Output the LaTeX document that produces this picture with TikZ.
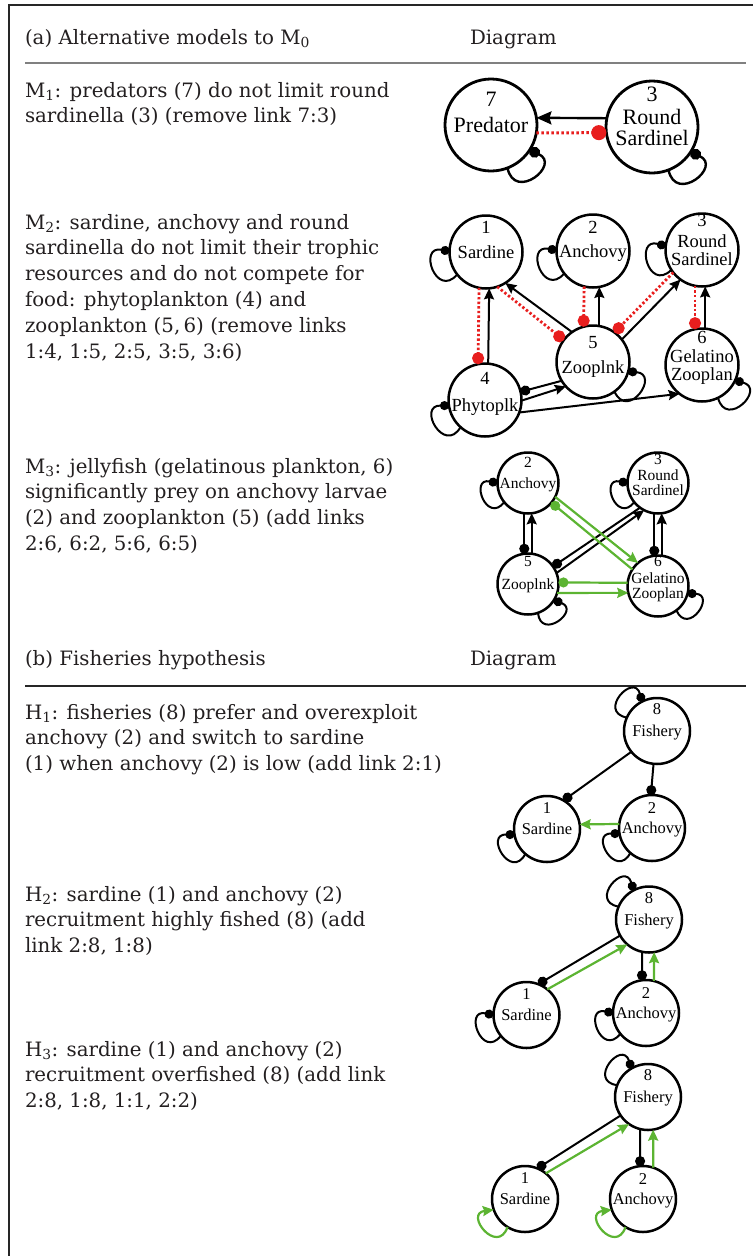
\documentclass[tikz,border=0pt]{standalone}
\usepackage{fontspec}
\setmainfont{DejaVu Serif}
\newfontfamily\nodefont{Liberation Serif}
\usetikzlibrary{arrows.meta,calc}
\definecolor{myred}{RGB}{232,30,30}
\definecolor{mygreen}{RGB}{92,180,50}
\definecolor{txt}{RGB}{35,31,32}
\newcommand{\para}[1]{\begin{tabular}[t]{@{}l@{}}#1\end{tabular}}
% self loop: style, node, direction phi, half-span alpha (signed), tangent gamma (signed), control length
\newcommand\sloop[6]{%
  \pgfmathsetmacro\lpa{#3+#4}\pgfmathsetmacro\lpb{#3-#4}%
  \pgfmathsetmacro\lpc{-(#3+#5)}\pgfmathsetmacro\lpd{-(#3-#5)}%
  \draw[#1] (#2.\lpa) .. controls +(\lpc:#6) and +(\lpd:#6) .. (#2.\lpb);}
\begin{document}
\begin{tikzpicture}[x=1pt,y=-1pt,
  every node/.style={inner sep=0pt, outer sep=0pt},
  body/.style={anchor=base west, text=txt, font=\fontsize{19.8}{25.9}\selectfont},
  nd/.style={circle, draw=black, fill=white, line width=2.5pt, align=center, text=black, text depth=0pt},
  nA/.style={nd, line width=2.8pt, minimum size=92pt, font=\nodefont\fontsize{22}{21}\selectfont},
  nB/.style={nd, minimum size=73pt, font=\nodefont\fontsize{18.5}{18}\selectfont},
  nC/.style={nd, minimum size=61pt, font=\nodefont\fontsize{15.5}{15}\selectfont},
  nD/.style={nd, minimum size=66pt, font=\nodefont\fontsize{16.5}{16}\selectfont},
  lA/.style={text=black, font=\nodefont\fontsize{22}{22}\selectfont},
  lB/.style={text=black, font=\nodefont\fontsize{18.5}{18}\selectfont},
  lC/.style={text=black, font=\nodefont\fontsize{15.5}{15}\selectfont},
  lD/.style={text=black, font=\nodefont\fontsize{16.5}{16}\selectfont},
  ba/.style={line width=2pt, -{Stealth[length=11pt,width=10pt,inset=1.5pt]}},
  baA/.style={line width=2.4pt, -{Stealth[length=15pt,width=13pt,inset=2pt]}},
  bd/.style={line width=2pt, -{Circle[length=10pt]}},
  bdl/.style={line width=2pt, {Circle[length=9pt]}-},
  bdlA/.style={line width=2.4pt, {Circle[length=11pt]}-},
  rd/.style={draw=myred, line width=2.8pt, dash pattern=on 2.4pt off 2.2pt, -{Circle[length=12pt]}},
  rdA/.style={draw=myred, line width=3pt, dash pattern=on 2.6pt off 2.4pt, -{Circle[length=15pt]}},
  ga/.style={draw=mygreen, line width=2.2pt, -{Stealth[length=11pt,width=10pt,inset=1.5pt]}},
  gd/.style={draw=mygreen, line width=2.2pt, -{Circle[length=10pt]}}
]
\useasboundingbox (0,0) rectangle (753,1256);
% frame and rules
\draw[line width=2pt, black!85] (8.5,1256) -- (8.5,5) -- (753,5);
\draw[line width=1.2pt, black!50] (25,63) -- (746,63);
\draw[line width=1.3pt, black!85] (25,686) -- (746,686);

% ---------- texts ----------
\node[body] (ha) at (25,44.5) {(a) Alternative models to M\textsubscript{0}};
\node[body] (hda) at (470,44.5) {Diagram};
\node[body] (tm1) at (25,97) {\para{M\textsubscript{1}: predators (7) do not limit round\\sardinella (3) (remove link 7:3)}};
\node[body] (tm2) at (25,229) {\para{M\textsubscript{2}: sardine, anchovy and round\\sardinella do not limit their trophic\\resources and do not compete for\\food: phytoplankton (4) and\\zooplankton (5,\thinspace6) (remove links\\1:4, 1:5, 2:5, 3:5, 3:6)}};
\node[body] (tm3) at (25,473) {\para{M\textsubscript{3}: jellyfish (gelatinous plankton, 6)\\significantly prey on anchovy larvae\\(2) and zooplankton (5) (add links\\2:6, 6:2, 5:6, 6:5)}};
\node[body] (hb) at (25,665) {(b) Fisheries hypothesis};
\node[body] (hdb) at (470,665) {Diagram};
\node[body] (th1) at (25,719) {\para{H\textsubscript{1}: fisheries (8) prefer and overexploit\\anchovy (2) and switch to sardine\\(1) when anchovy (2) is low (add link 2:1)}};
\node[body] (th2) at (25,901) {\para{H\textsubscript{2}: sardine (1) and anchovy (2)\\recruitment highly fished (8) (add\\link 2:8, 1:8)}};
\node[body] (th3) at (25,1056) {\para{H\textsubscript{3}: sardine (1) and anchovy (2)\\recruitment overfished (8) (add link\\2:8, 1:8, 1:1, 2:2)}};

% ---------- M1 ----------
\node[nA, label={[lA, label distance=-27pt]90:7}] (p7) at (491,125) {Predator};
\node[nA, label={[lA, label distance=-21pt]90:3}] (s3) at (652,127) {Round\\Sardinel};
\draw[baA] (s3.169) -- (p7.9);
\draw[rdA] (p7.-10) -- (s3.187);
\sloop{bdlA}{p7}{-51}{18}{27}{35}
\sloop{bdlA}{s3}{-51}{18}{27}{35}

% ---------- M2 ----------
\node[nB, label={[lB, label distance=-17.5pt]90:1}] (b1) at (486,252) {Sardine};
\node[nB, label={[lB, label distance=-18.5pt]90:2}] (b2) at (593,251) {Anchovy};
\node[nB, label={[lB, label distance=-13.5pt]90:3}] (b3) at (702,250) {Round\\Sardinel};
\node[nB, label={[lB, label distance=-20.5pt]90:4}] (b4) at (485,400) {\raisebox{-10pt}{Phytoplk}};
\node[nB, label={[lB, label distance=-23.5pt]90:5}] (b5) at (593,362) {\raisebox{-10pt}{Zooplnk}};
\node[nB, label={[lB, label distance=-15.5pt]90:6}] (b6) at (702,365) {Gelatino\\Zooplan};
\draw[ba] (b4.85) -- (b1.-85);
\draw[rd] (b1.-101) -- (b4.101);
\draw[ba] (b5.125) -- (b1.-58);
\draw[rd] (b1.-72) -- (b5.143);
\draw[ba] (b5.80) -- (b2.-80);
\draw[rd] (b2.-104) -- (b5.105);
\draw[ba] (b5.38) -- (b3.234);
\draw[rd] (b3.218) -- (b5.54);
\draw[ba] (b6.85) -- (b3.-85);
\draw[rd] (b3.-101) -- (b6.101);
\draw[bd] (b5.211) -- (b4.13);
\draw[ba] (b4.-1) -- (b5.222);
\draw[ba] (b4.-20) -- (b6.232);
\sloop{bdl}{b1}{199}{-19.3}{-30.3}{32.5}
\sloop{bdl}{b2}{199}{-19.3}{-30.3}{32.5}
\sloop{bdl}{b3}{194}{-19.3}{-30.3}{32.5}
\sloop{bdl}{b4}{209}{-19.3}{-30.3}{32.5}
\sloop{bdl}{b5}{-35}{19.3}{30.3}{32.5}
\sloop{bdl}{b6}{-45}{19.3}{30.3}{32.5}

% ---------- M3 ----------
\node[nC, label={[lC, label distance=-14.5pt]90:2}] (c2) at (528,483) {Anchovy};
\node[nC, label={[lC, label distance=-12.5pt]90:3}] (c3) at (658,483) {Round\\Sardinel};
\node[nC, label={[lC, label distance=-13.5pt]90:5}] (c5) at (528,584) {Zooplnk};
\node[nC, label={[lC, label distance=-11.5pt]90:6}] (c6) at (658,586) {Gelatino\\Zooplan};
\draw[bd] (c2.-97) -- (c5.97);
\draw[ba] (c5.83) -- (c2.-83);
\draw[bd] (c3.-97) -- (c6.97);
\draw[ba] (c6.83) -- (c3.-83);
\draw[bd] (c3.234) -- (c5.35);
\draw[ba] (c5.21) -- (c3.243);
\draw[ga] (c2.-27) -- (c6.131);
\draw[gd] (c6.147) -- (c2.-40);
\draw[gd] (c6.174) -- (c5.3);
\draw[ga] (c5.-17) -- (c6.193);
\sloop{bdl}{c2}{200}{-19.6}{-31.5}{28.6}
\sloop{bdl}{c3}{200}{-19.6}{-31.5}{28.6}
\sloop{bdl}{c5}{-52}{19.6}{31.5}{28.6}
\sloop{bdl}{c6}{-34}{19.6}{31.5}{28.6}

% ---------- H1 ----------
\node[nD, label={[lD, label distance=-17pt]90:8}] (h8) at (657,731) {Fishery};
\node[nD, label={[lD, label distance=-17pt]90:1}] (h1) at (547,829) {Sardine};
\node[nD, label={[lD, label distance=-18pt]90:2}] (h2) at (652,828) {Anchovy};
\draw[bd] (h8.219) -- (h1.60);
\draw[bd] (h8.-96) -- (h2.92);
\draw[ga] (h2.173) -- (h1.8);
\sloop{bdl}{h8}{137}{-19.5}{-32}{30.6}
\sloop{bdl}{h1}{210}{-19.5}{-32}{30.6}
\sloop{bdl}{h2}{210}{-19.5}{-32}{30.6}

% ---------- H2 ----------
\node[nD, label={[lD, label distance=-17pt]90:8}] (k8) at (649,919.5) {Fishery};
\node[nD, label={[lD, label distance=-17pt]90:1}] (k1) at (526.5,1015) {Sardine};
\node[nD, label={[lD, label distance=-18pt]90:2}] (k2) at (646,1013) {Anchovy};
\draw[bd] (k8.209) -- (k1.69);
\draw[ga] (k1.51) -- (k8.229);
\draw[bd] (k8.-102) -- (k2.97);
\draw[ga] (k2.76) -- (k8.-81);
\sloop{bdl}{k8}{138}{-19.5}{-32}{30.6}
\sloop{bdl}{k1}{200}{-19.5}{-32}{30.6}
\sloop{bdl}{k2}{200}{-19.5}{-32}{30.6}

% ---------- H3 ----------
\node[nD, label={[lD, label distance=-17pt]90:8}] (q8) at (648,1097) {Fishery};
\node[nD, label={[lD, label distance=-17pt]90:1}] (q1) at (525,1199) {Sardine};
\node[nD, label={[lD, label distance=-18pt]90:2}] (q2) at (643,1199) {Anchovy};
\draw[bd] (q8.214) -- (q1.68);
\draw[ga] (q1.51) -- (q8.235);
\draw[bd] (q8.-104) -- (q2.95);
\draw[ga] (q2.72) -- (q8.-81.5);
\sloop{bdl}{q8}{140}{-19.5}{-32}{30.6}
\sloop{ga}{q1}{219}{19.5}{32}{30.6}
\sloop{ga}{q2}{219}{19.5}{32}{30.6}
\end{tikzpicture}
\end{document}
